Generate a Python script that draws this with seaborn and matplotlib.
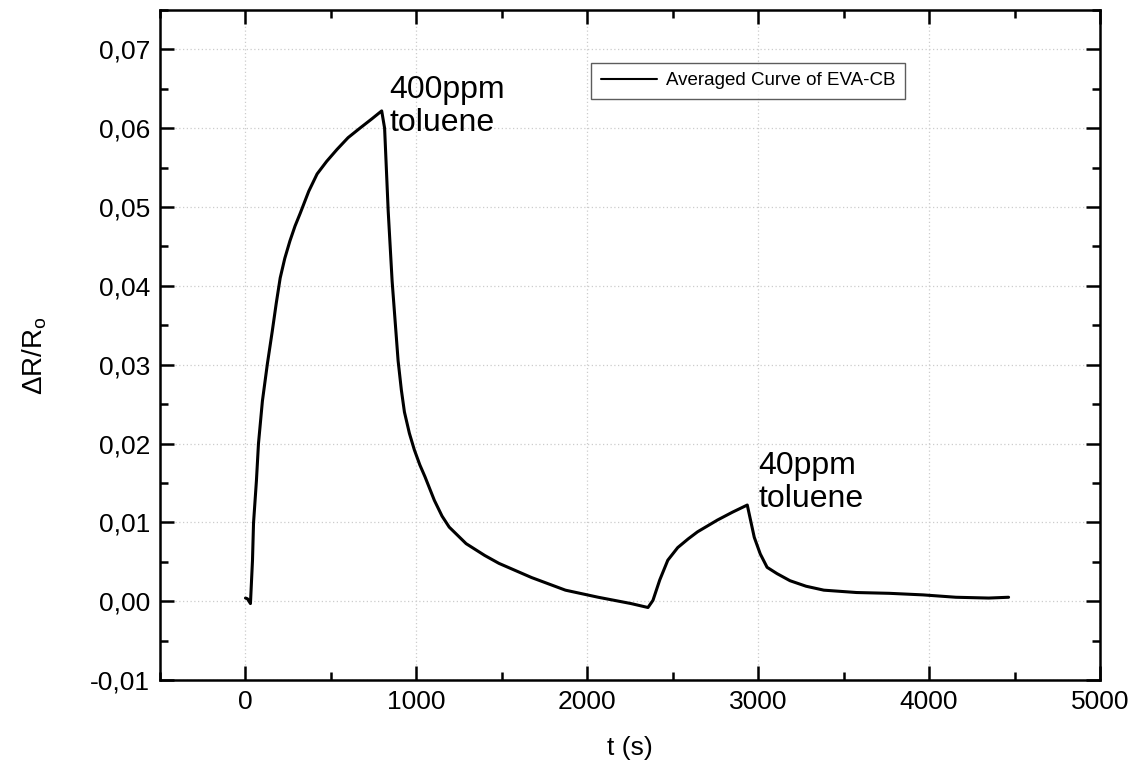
import matplotlib
matplotlib.use("Agg")
import matplotlib.pyplot as plt
import seaborn as sns
import pandas as pd
from matplotlib.ticker import MultipleLocator, FuncFormatter

# Data
time_s = [0, 12, 29, 41, 47, 64, 76, 99, 128, 157, 180, 203, 230, 260, 290,
          320, 370, 419, 475, 535, 600, 669, 740, 797, 814, 835, 858, 893,
          912, 930, 959, 988, 1020, 1050, 1105, 1150, 1192, 1291, 1400, 1483,
          1674, 1872, 2064, 2256, 2355, 2384, 2424, 2471, 2529, 2590, 2645,
          2762, 2850, 2936, 2977, 3012, 3052, 3110, 3186, 3280, 3384, 3576,
          3767, 3965, 4157, 4349, 4465]
delta_r = [0.0004, 0.0003, -0.0003, 0.0052, 0.0099, 0.0153, 0.0200, 0.0254,
           0.0301, 0.0343, 0.0378, 0.0410, 0.0435, 0.0457, 0.0476,
           0.0492, 0.0520, 0.0542, 0.0558, 0.0573, 0.0588, 0.0600, 0.0612,
           0.0622, 0.0600, 0.0495, 0.0406, 0.0305,
           0.0268, 0.0240, 0.0213, 0.0192, 0.0173, 0.0158, 0.0128, 0.0108,
           0.0094, 0.0073, 0.0058, 0.0048,
           0.0030, 0.0014, 0.0005, -0.0003, -0.0008, 0.0001, 0.0027, 0.0052,
           0.0068, 0.0079, 0.0088,
           0.0103, 0.0113, 0.0122, 0.0081, 0.0060, 0.0043, 0.0035, 0.0026,
           0.0019, 0.0014, 0.0011,
           0.0010, 0.0008, 0.0005, 0.0004, 0.0005]
series_label = "Averaged Curve of EVA-CB"
annotations = [("400ppm\ntoluene", 843, 0.0667), ("40ppm\ntoluene", 3000, 0.0190)]

df = pd.DataFrame({"t": time_s, "dr": delta_r})

sns.set_theme(style="ticks")
plt.rcParams["font.family"] = ["Liberation Sans", "DejaVu Sans"]
plt.rcParams["mathtext.fontset"] = "custom"
plt.rcParams["mathtext.rm"] = "Liberation Sans"
plt.rcParams["text.color"] = "black"
plt.rcParams["axes.labelcolor"] = "black"
plt.rcParams["xtick.color"] = "black"
plt.rcParams["ytick.color"] = "black"

fig = plt.figure(figsize=(11.31, 7.69), dpi=100)
ax = fig.add_axes([0.1415, 0.1157, 0.8311, 0.8713])

sns.lineplot(data=df, x="t", y="dr", ax=ax, color="black", linewidth=2.2,
             label=series_label, sort=False, estimator=None)

ax.set_xlim(-500, 5000)
ax.set_ylim(-0.01, 0.075)
ax.xaxis.set_major_locator(MultipleLocator(1000))
ax.xaxis.set_minor_locator(MultipleLocator(500))
ax.yaxis.set_major_locator(MultipleLocator(0.01))
ax.yaxis.set_minor_locator(MultipleLocator(0.005))
ax.yaxis.set_major_formatter(FuncFormatter(lambda v, p: f"{v:.2f}".replace(".", ",")))

ax.grid(True, which="major", linestyle=(0, (1, 2)), color="#cccccc", linewidth=0.9)
ax.set_axisbelow(True)

for s in ax.spines.values():
    s.set_linewidth(1.8)
    s.set_color("black")
ax.tick_params(which="both", direction="in", top=True, right=True, width=1.8,
               color="black", labelcolor="black")
ax.tick_params(which="major", length=10, labelsize=19, pad=7)
ax.tick_params(which="minor", length=6)

ax.set_xlabel("t (s)", fontsize=19, labelpad=16, color="black")
ax.set_ylabel(r"$\Delta$R/R$_\mathregular{o}$", fontsize=20, labelpad=30, color="black")
ax.yaxis.label.set_y(0.484)

for txt, x, y in annotations:
    ax.text(x, y, txt, fontsize=23, ha="left", va="top", linespacing=1.12, color="black")

leg = ax.legend(loc="upper right", bbox_to_anchor=(0.7926, 0.921), fontsize=13.5,
                frameon=True, fancybox=False, handlelength=3.0, borderpad=0.5,
                handletextpad=0.5, borderaxespad=0.0)
leg.get_frame().set_edgecolor("#333333")
leg.get_frame().set_linewidth(1.0)
for t in leg.get_texts():
    t.set_color("black")
for h in leg.get_lines():
    h.set_linewidth(1.5)

fig.savefig("out.png", dpi=100)
